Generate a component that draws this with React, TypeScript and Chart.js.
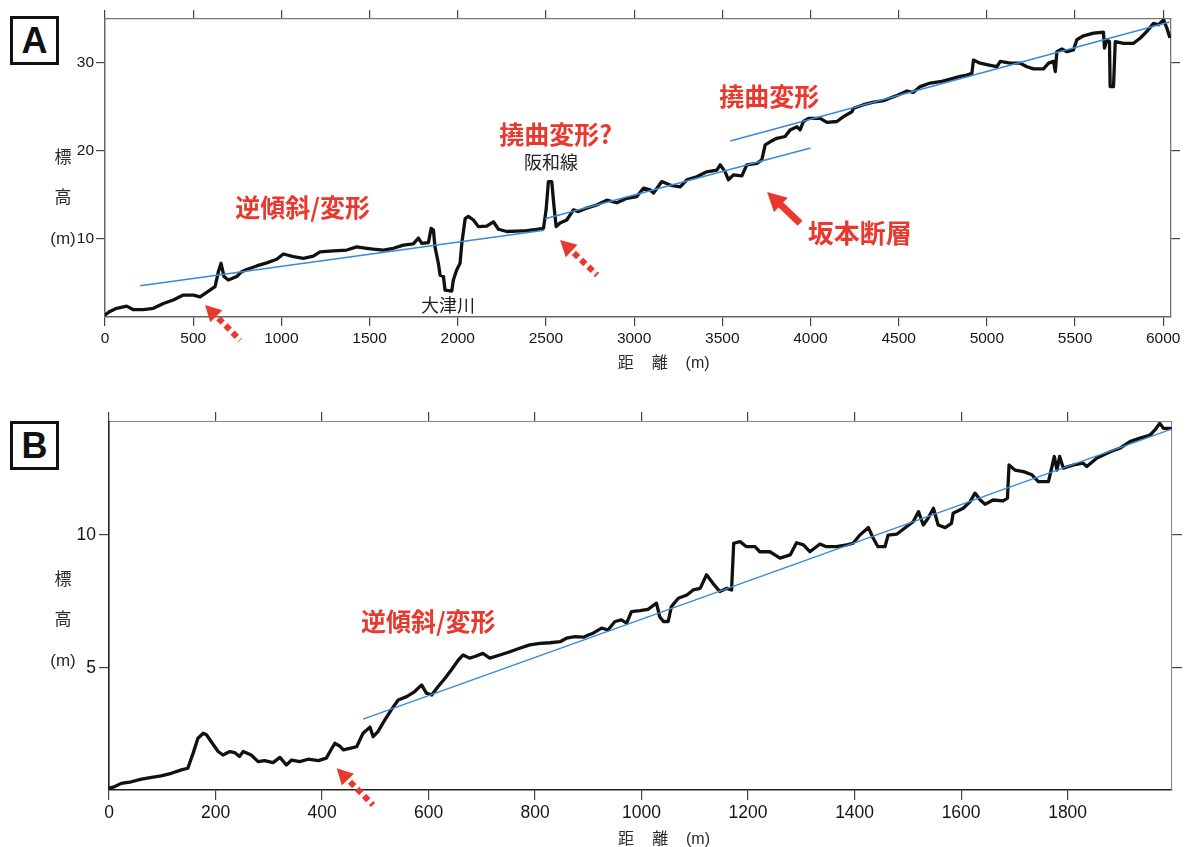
import React, { useEffect, useRef } from 'react';
import { Chart, registerables } from 'chart.js';

Chart.register(...registerables);

// ---------------- Data: profile A ----------------
const A_DIST = [0, 28, 66, 123, 161, 217, 274, 331, 387, 444, 501, 539, 595, 624, 643, 658, 675, 699, 747, 775, 803, 860, 917, 974, 1011, 1068, 1125, 1181, 1219, 1295, 1371, 1427, 1484, 1522, 1578, 1635, 1692, 1748, 1777, 1796, 1834, 1849, 1862, 1871, 1890, 1900, 1919, 1928, 1966, 1975, 1994, 2013, 2023, 2042, 2060, 2089, 2117, 2164, 2202, 2231, 2278, 2335, 2391, 2448, 2486, 2501, 2514, 2533, 2546, 2558, 2580, 2618, 2656, 2684, 2732, 2788, 2845, 2902, 2959, 3015, 3053, 3091, 3110, 3157, 3204, 3261, 3299, 3355, 3412, 3469, 3488, 3516, 3535, 3563, 3611, 3639, 3696, 3724, 3743, 3771, 3809, 3856, 3885, 3923, 3941, 3960, 3989, 4055, 4093, 4150, 4187, 4235, 4244, 4301, 4357, 4414, 4452, 4490, 4547, 4584, 4622, 4679, 4735, 4792, 4849, 4887, 4915, 4924, 4962, 5019, 5057, 5076, 5132, 5189, 5227, 5265, 5321, 5350, 5378, 5388, 5397, 5425, 5454, 5491, 5510, 5548, 5605, 5661, 5667, 5680, 5695, 5699, 5718, 5728, 5775, 5832, 5870, 5907, 5945, 5973, 6002, 6021, 6036];
const A_ELEV = [1.4, 1.8, 2.15, 2.4, 2.0, 2.0, 2.15, 2.7, 3.1, 3.65, 3.65, 3.45, 4.2, 4.6, 6.3, 7.25, 5.75, 5.35, 5.75, 6.3, 6.55, 6.95, 7.3, 7.7, 8.3, 8.0, 7.8, 8.05, 8.55, 8.65, 8.75, 9.1, 8.95, 8.85, 8.75, 8.95, 9.3, 9.45, 10.1, 9.5, 9.6, 11.2, 11.0, 9.1, 7.25, 5.9, 5.75, 4.2, 4.1, 5.35, 6.5, 7.25, 9.5, 12.3, 12.55, 12.15, 11.4, 11.45, 11.95, 11.1, 10.85, 10.9, 10.95, 11.1, 11.2, 13.3, 16.5, 16.5, 13.65, 11.4, 11.8, 12.15, 13.3, 13.1, 13.5, 13.85, 14.4, 14.1, 14.6, 14.8, 15.75, 15.55, 15.2, 16.5, 16.1, 15.9, 16.7, 17.05, 17.6, 17.8, 18.4, 17.6, 16.7, 17.25, 17.15, 18.4, 18.55, 18.95, 20.65, 21.0, 21.4, 21.6, 22.35, 22.7, 22.35, 23.3, 23.65, 23.65, 23.2, 23.3, 23.85, 24.4, 24.8, 25.2, 25.5, 25.65, 25.95, 26.25, 26.75, 26.6, 27.25, 27.65, 27.8, 28.1, 28.4, 28.55, 28.75, 30.25, 29.9, 29.65, 29.5, 30.1, 29.9, 29.9, 29.5, 29.25, 29.25, 29.9, 30.1, 28.95, 31.2, 31.5, 31.2, 31.4, 32.55, 33.0, 33.3, 33.4, 31.6, 32.55, 32.35, 27.25, 27.25, 32.35, 32.15, 32.15, 32.75, 33.5, 34.4, 34.25, 34.8, 33.85, 32.9];

// trend lines A
const A_TREND1_DIST = [200, 2490];
const A_TREND1_ELEV = [4.7, 11.0];
const A_TREND2_DIST = [2495, 4000];
const A_TREND2_ELEV = [12.3, 20.3];
const A_TREND3_DIST = [3545, 6035];
const A_TREND3_ELEV = [21.1, 34.55];

const A_X_TICKS = [0, 500, 1000, 1500, 2000, 2500, 3000, 3500, 4000, 4500, 5000, 5500, 6000];
const A_Y_TICKS = [10, 20, 30];

// ---------------- Data: profile B ----------------
const B_DIST = [1, 11, 23, 42, 61, 80, 98, 117, 136, 148, 158, 167, 177, 183, 192, 205, 214, 227, 236, 245, 252, 267, 280, 292, 308, 321, 333, 343, 358, 374, 393, 408, 415, 424, 433, 440, 452, 465, 477, 490, 496, 505, 518, 530, 543, 559, 574, 587, 596, 606, 618, 631, 643, 656, 665, 677, 687, 702, 715, 734, 753, 771, 790, 809, 828, 847, 859, 875, 891, 900, 909, 925, 937, 950, 962, 972, 981, 997, 1012, 1028, 1034, 1041, 1050, 1056, 1069, 1085, 1097, 1110, 1122, 1134, 1147, 1160, 1169, 1173, 1185, 1197, 1213, 1222, 1241, 1260, 1279, 1291, 1304, 1316, 1335, 1347, 1366, 1385, 1397, 1410, 1426, 1435, 1444, 1457, 1463, 1479, 1498, 1510, 1520, 1529, 1538, 1548, 1557, 1570, 1582, 1585, 1604, 1617, 1626, 1636, 1645, 1660, 1679, 1687, 1690, 1701, 1717, 1733, 1745, 1764, 1770, 1775, 1780, 1785, 1792, 1811, 1829, 1836, 1855, 1880, 1898, 1917, 1936, 1955, 1964, 1973, 1980, 1993];
const B_ELEV = [0.46, 0.52, 0.64, 0.7, 0.8, 0.87, 0.92, 1.02, 1.15, 1.21, 1.78, 2.34, 2.53, 2.47, 2.21, 1.84, 1.71, 1.84, 1.8, 1.65, 1.84, 1.71, 1.46, 1.5, 1.42, 1.62, 1.33, 1.52, 1.46, 1.55, 1.5, 1.59, 1.84, 2.15, 2.05, 1.9, 1.96, 2.02, 2.53, 2.76, 2.4, 2.59, 3.03, 3.41, 3.78, 3.91, 4.1, 4.35, 4.04, 3.97, 4.29, 4.6, 4.92, 5.29, 5.48, 5.36, 5.42, 5.54, 5.36, 5.48, 5.6, 5.73, 5.86, 5.92, 5.94, 5.98, 6.11, 6.17, 6.15, 6.23, 6.3, 6.49, 6.42, 6.74, 6.8, 6.68, 7.11, 7.15, 7.2, 7.43, 6.92, 6.74, 6.74, 7.3, 7.62, 7.74, 7.93, 7.99, 8.5, 8.18, 7.87, 7.99, 7.93, 9.69, 9.75, 9.56, 9.56, 9.37, 9.37, 9.13, 9.25, 9.71, 9.63, 9.37, 9.66, 9.56, 9.56, 9.63, 9.69, 10.0, 10.28, 9.88, 9.56, 9.56, 10.0, 10.03, 10.32, 10.5, 10.88, 10.38, 10.63, 11.01, 10.38, 10.28, 10.44, 10.82, 11.01, 11.26, 11.58, 11.32, 11.16, 11.32, 11.29, 11.39, 12.64, 12.45, 12.39, 12.27, 12.01, 12.01, 12.52, 12.96, 12.45, 12.96, 12.52, 12.64, 12.71, 12.58, 12.9, 13.14, 13.27, 13.52, 13.65, 13.77, 13.96, 14.21, 14.02, 14.02];

const B_TREND_DIST = [477, 1995];
const B_TREND_ELEV = [3.06, 13.99];

const B_X_TICKS = [0, 200, 400, 600, 800, 1000, 1200, 1400, 1600, 1800];
const B_Y_TICKS = [5, 10];

// ---------------- Styles ----------------
const RED = '#e9392e';
const BLUE = '#3a8ad8';
const INK = '#111111';
const CJK = '"Noto Sans CJK JP", "Noto Sans CJK SC", sans-serif';
const LATIN = '"Liberation Sans", Arial, Helvetica, sans-serif';

const pts = (xs: number[], ys: number[]) => xs.map((x, i) => ({ x, y: ys[i] }));

type Label = { text: string; x: number; y: number; size: number; color: string; bold?: boolean };
type Arrow = { tip: [number, number]; tail: [number, number]; dashed: boolean; shaft: number; head: number; headW: number };
type TitlePart = { text: string; latin?: boolean };
type Overlay = {
  id: string;
  labels: Label[];
  arrows: Arrow[];
  yTitle: (TitlePart & { px: number; py: number })[];
  xTitle: (TitlePart & { x: number })[];
  xTitleDy: number;
};

function overlayPlugin(cfg: Overlay) {
  return {
    id: 'overlay_' + cfg.id,
    afterDraw(chart: any) {
      const ctx: CanvasRenderingContext2D = chart.ctx;
      const xs = chart.scales.x;
      const ys = chart.scales.y;
      ctx.save();
      // arrows
      for (const a of cfg.arrows) {
        const tx = xs.getPixelForValue(a.tip[0]);
        const ty = ys.getPixelForValue(a.tip[1]);
        const sx = xs.getPixelForValue(a.tail[0]);
        const sy = ys.getPixelForValue(a.tail[1]);
        const dx = tx - sx, dy = ty - sy;
        const len = Math.hypot(dx, dy);
        const ux = dx / len, uy = dy / len;
        const bx = tx - ux * a.head, by = ty - uy * a.head;
        ctx.strokeStyle = RED;
        ctx.lineWidth = a.shaft;
        ctx.lineCap = 'butt';
        if (a.dashed) {
          ctx.setLineDash([6, 4]);
          ctx.beginPath();
          ctx.moveTo(bx - ux * 3, by - uy * 3);
          ctx.lineTo(sx, sy);
          ctx.stroke();
          ctx.setLineDash([]);
        } else {
          ctx.beginPath();
          ctx.moveTo(bx + ux * 1, by + uy * 1);
          ctx.lineTo(sx, sy);
          ctx.stroke();
        }
        ctx.fillStyle = RED;
        ctx.beginPath();
        ctx.moveTo(tx, ty);
        ctx.lineTo(bx - uy * a.headW / 2, by + ux * a.headW / 2);
        ctx.lineTo(bx + uy * a.headW / 2, by - ux * a.headW / 2);
        ctx.closePath();
        ctx.fill();
      }
      // labels
      ctx.textAlign = 'center';
      ctx.textBaseline = 'middle';
      for (const l of cfg.labels) {
        ctx.font = `${l.bold ? '700' : '400'} ${l.size}px ${CJK}`;
        ctx.fillStyle = l.color;
        ctx.fillText(l.text, xs.getPixelForValue(l.x), ys.getPixelForValue(l.y));
      }
      // axis titles
      ctx.fillStyle = '#2a2a2a';
      for (const t of cfg.yTitle) {
        ctx.font = t.latin ? `400 17px ${LATIN}` : `400 17px ${CJK}`;
        ctx.fillText(t.text, t.px, t.py + (t.latin ? 2 : 0));
      }
      for (const t of cfg.xTitle) {
        ctx.font = t.latin ? `400 16px ${LATIN}` : `400 16px ${CJK}`;
        ctx.fillText(t.text, xs.getPixelForValue(t.x), chart.chartArea.bottom + cfg.xTitleDy + (t.latin ? 2 : 0));
      }
      ctx.restore();
    },
  };
}

type AxisCfg = {
  xMax: number; yMin: number; yMax: number;
  xTicks: number[]; yTicks: number[];
  fontSize: number; tickLen: number;
  leftW: number; rightW: number; topH: number; bottomH: number;
  xPad: number; yPad: number;
  mainBorder: string; mainBorderW: number; sideBorder: string; sideBorderW: number;
};

function buildScales(c: AxisCfg) {
  const setTicks = (vals: number[]) => (s: any) => { s.ticks = vals.map((v) => ({ value: v })); };
  const font = { family: LATIN, size: c.fontSize };
  const grid = { drawOnChartArea: false, drawTicks: true, tickLength: c.tickLen, color: '#444', lineWidth: 1.2 };
  return {
    x: {
      type: 'linear', position: 'bottom', min: 0, max: c.xMax,
      afterBuildTicks: setTicks(c.xTicks),
      afterFit: (s: any) => { s.height = c.bottomH; },
      ticks: { font, color: '#151515', padding: c.xPad, maxRotation: 0, autoSkip: false, callback: (v: any) => String(v) },
      grid,
      border: { display: true, color: c.mainBorder, width: c.mainBorderW },
    },
    x2: {
      type: 'linear', position: 'top', min: 0, max: c.xMax,
      afterBuildTicks: setTicks(c.xTicks),
      afterFit: (s: any) => { s.height = c.topH; },
      ticks: { display: false },
      grid,
      border: { display: true, color: c.sideBorder, width: c.sideBorderW },
    },
    y: {
      type: 'linear', position: 'left', min: c.yMin, max: c.yMax,
      afterBuildTicks: setTicks(c.yTicks),
      afterFit: (s: any) => { s.width = c.leftW; },
      ticks: { font, color: '#151515', padding: c.yPad, callback: (v: any) => String(v) },
      grid,
      border: { display: true, color: c.mainBorder, width: c.mainBorderW },
    },
    y2: {
      type: 'linear', position: 'right', min: c.yMin, max: c.yMax,
      afterBuildTicks: setTicks(c.yTicks),
      afterFit: (s: any) => { s.width = c.rightW; },
      ticks: { display: false },
      grid,
      border: { display: true, color: c.sideBorder, width: c.sideBorderW },
    },
  };
}

function profileDataset(label: string, xs: number[], ys: number[]) {
  return {
    label, data: pts(xs, ys), borderColor: INK, borderWidth: 3.3, pointRadius: 0,
    tension: 0, borderJoinStyle: 'round', borderCapStyle: 'round', fill: false,
    xAxisID: 'x', yAxisID: 'y',
  };
}
function trendDataset(label: string, xs: number[], ys: number[]) {
  return {
    label, data: pts(xs, ys), borderColor: BLUE, borderWidth: 1.5, pointRadius: 0,
    tension: 0, fill: false, xAxisID: 'x', yAxisID: 'y',
  };
}

const overlayA: Overlay = {
  id: 'A',
  labels: [
    { text: '逆傾斜/変形', x: 1120, y: 13.62, size: 25, color: RED, bold: true },
    { text: '撓曲変形?', x: 2555, y: 21.78, size: 25, color: RED, bold: true },
    { text: '撓曲変形', x: 3766, y: 26.08, size: 25, color: RED, bold: true },
    { text: '坂本断層', x: 4279, y: 10.68, size: 26, color: RED, bold: true },
    { text: '阪和線', x: 2529, y: 18.72, size: 18, color: '#222' },
    { text: '大津川', x: 1945, y: 2.53, size: 18, color: '#222' },
  ],
  arrows: [
    { tip: [567, 2.53], tail: [766, -1.44], dashed: true, shaft: 6, head: 16, headW: 17 },
    { tip: [2580, 9.89], tail: [2790, 5.92], dashed: true, shaft: 6, head: 16, headW: 17 },
    { tip: [3754, 15.33], tail: [3941, 11.78], dashed: false, shaft: 7, head: 19, headW: 20 },
  ],
  yTitle: [
    { text: '標', px: 63, py: 157 },
    { text: '高', px: 63, py: 197 },
    { text: '(m)', px: 63, py: 237, latin: true },
  ],
  xTitle: [
    { text: '距', x: 2952 },
    { text: '離', x: 3145 },
    { text: '(m)', x: 3360, latin: true },
  ],
  xTitleDy: 45,
};

const overlayB: Overlay = {
  id: 'B',
  labels: [
    { text: '逆傾斜/変形', x: 599.5, y: 6.74, size: 25, color: RED, bold: true },
  ],
  arrows: [
    { tip: [427.5, 1.21], tail: [495.7, -0.175], dashed: true, shaft: 6, head: 16, headW: 17 },
  ],
  yTitle: [
    { text: '標', px: 63, py: 179 },
    { text: '高', px: 63, py: 219 },
    { text: '(m)', px: 63, py: 259, latin: true },
  ],
  xTitle: [
    { text: '距', x: 971 },
    { text: '離', x: 1035 },
    { text: '(m)', x: 1106, latin: true },
  ],
  xTitleDy: 48,
};

function baseOptions(scales: any) {
  return {
    responsive: false,
    animation: false,
    events: [],
    layout: { padding: 0 },
    plugins: { legend: { display: false }, tooltip: { enabled: false }, title: { display: false } },
    scales,
  };
}

const boxStyle = (top: number): React.CSSProperties => ({
  position: 'absolute', left: 10, top, width: 49, height: 49, boxSizing: 'border-box',
  border: '3px solid #111', display: 'flex', alignItems: 'center', justifyContent: 'center',
  fontFamily: LATIN, fontWeight: 700, fontSize: 36, color: '#111', background: '#fff', lineHeight: 1,
});

export default function App() {
  const aRef = useRef<HTMLCanvasElement>(null);
  const bRef = useRef<HTMLCanvasElement>(null);

  useEffect(() => {
    const scalesA = buildScales({
      xMax: 6044, yMin: 1.17, yMax: 34.9, xTicks: A_X_TICKS, yTicks: A_Y_TICKS,
      fontSize: 15.5, tickLen: 9, leftW: 105, rightW: 16, topH: 19, bottomH: 68,
      xPad: 3, yPad: 2, mainBorder: '#666', mainBorderW: 1.5, sideBorder: '#777', sideBorderW: 1.3,
    });
    const scalesB = buildScales({
      xMax: 1996, yMin: 0.39, yMax: 14.26, xTicks: B_X_TICKS, yTicks: B_Y_TICKS,
      fontSize: 17.5, tickLen: 10, leftW: 109, rightW: 15, topH: 22, bottomH: 57,
      xPad: 3, yPad: 3, mainBorder: '#222', mainBorderW: 1.6, sideBorder: '#888', sideBorderW: 1.1,
    });
    const chartA = new Chart(aRef.current as HTMLCanvasElement, {
      type: 'line',
      data: {
        datasets: [
          trendDataset('trend1', A_TREND1_DIST, A_TREND1_ELEV),
          trendDataset('trend2', A_TREND2_DIST, A_TREND2_ELEV),
          trendDataset('trend3', A_TREND3_DIST, A_TREND3_ELEV),
          profileDataset('profile A', A_DIST, A_ELEV),
        ],
      },
      options: baseOptions(scalesA) as any,
      plugins: [overlayPlugin(overlayA)],
    } as any);
    const chartB = new Chart(bRef.current as HTMLCanvasElement, {
      type: 'line',
      data: {
        datasets: [
          trendDataset('trend', B_TREND_DIST, B_TREND_ELEV),
          profileDataset('profile B', B_DIST, B_ELEV),
        ],
      },
      options: baseOptions(scalesB) as any,
      plugins: [overlayPlugin(overlayB)],
    } as any);
    return () => {
      chartA.destroy();
      chartB.destroy();
    };
  }, []);

  return (
    <div style={{ position: 'absolute', left: 0, top: 0, width: 1187, height: 847, background: '#fff', overflow: 'hidden' }}>
      <canvas ref={aRef} width={1187} height={385} style={{ position: 'absolute', left: 0, top: 0 }} />
      <canvas ref={bRef} width={1187} height={447} style={{ position: 'absolute', left: 0, top: 400 }} />
      <div style={boxStyle(16)}>A</div>
      <div style={boxStyle(421)}>B</div>
    </div>
  );
}
